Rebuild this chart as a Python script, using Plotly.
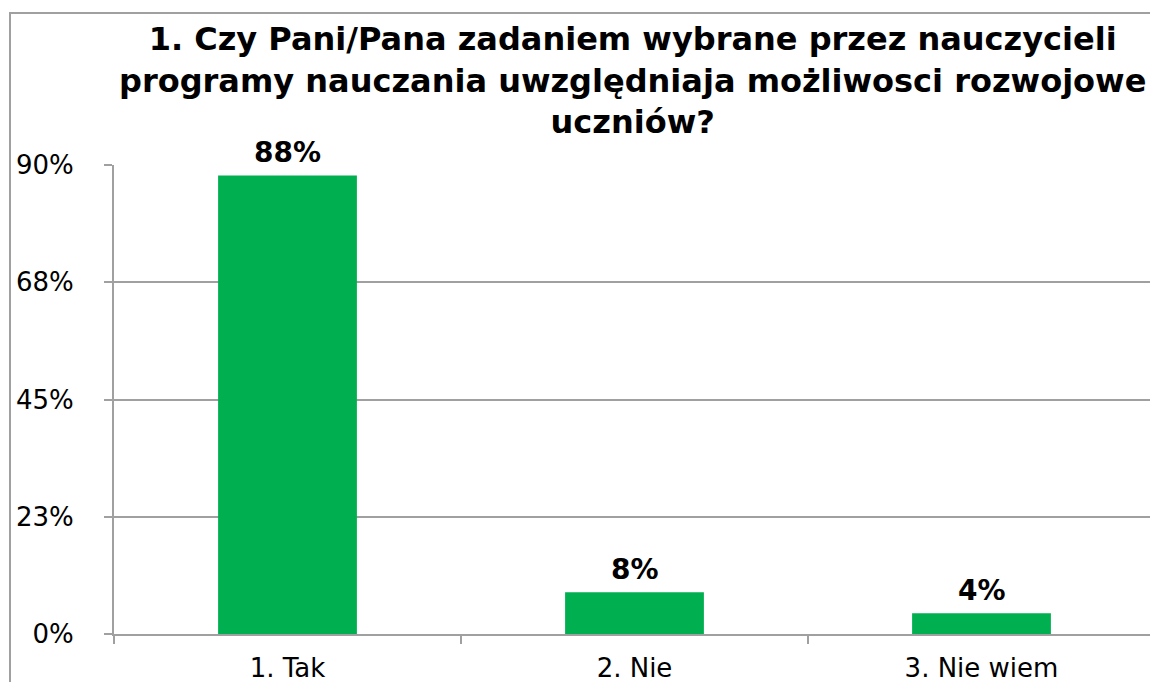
import plotly.graph_objects as go

categories = ["1. Tak", "2. Nie", "3. Nie wiem"]
values = [88, 8, 4]
value_labels = ["88%", "8%", "4%"]
tick_vals = [0, 22.5, 45, 67.5, 90]
tick_text = ["0%", "23%", "45%", "68%", "90%"]
title_text = ("1. Czy Pani/Pana zadaniem wybrane przez nauczycieli<br>"
              "programy nauczania uwzględniaja możliwosci rozwojowe<br>"
              "uczniów?")

FONT = "DejaVu Sans"
GREY = "#A0A0A0"

fig = go.Figure(go.Bar(
    x=categories, y=values,
    marker=dict(color="#00B050", line=dict(width=0)),
    width=0.4,
))

# data labels above bars
for c, v, t in zip(categories, values, value_labels):
    fig.add_annotation(x=c, y=v, text=t, showarrow=False, yanchor="bottom",
                       yshift=4,
                       font=dict(family=FONT, size=28, color="black", weight="bold"))

# title
fig.add_annotation(text=title_text, xref="paper", yref="paper", x=0.5, y=1 + (165 - 18) / 469,
                   xanchor="center", yanchor="top", showarrow=False,
                   font=dict(family=FONT, size=32, color="black", weight="bold"))

fig.update_layout(
    width=1150, height=682,
    margin=dict(l=114, r=0, t=165, b=48, pad=0, autoexpand=False),
    paper_bgcolor="white", plot_bgcolor="white",
    showlegend=False,
    font=dict(family=FONT, color="black"),
)

fig.update_xaxes(
    range=[-0.5, -0.5 + 1036/347], showline=True, linecolor=GREY, linewidth=2,
    ticks="outside", tickson="boundaries", ticklen=8, tickcolor=GREY, tickwidth=2,
    tickfont=dict(family=FONT, size=26, color="black"), showgrid=False,
    ticklabelstandoff=10, automargin=False,
)
fig.update_yaxes(
    range=[0, 90], tickvals=tick_vals, ticktext=tick_text,
    showline=True, linecolor=GREY, linewidth=2,
    ticks="outside", ticklen=8, tickcolor=GREY, tickwidth=2,
    gridcolor=GREY, gridwidth=2, zeroline=False,
    tickfont=dict(family=FONT, size=26, color="black"),
    ticklabelstandoff=25, automargin=False,
)

fig.add_shape(type="rect", xref="paper", yref="paper",
              x0=-104/1036, x1=1.05, y0=-0.3, y1=(634-13)/469,
              line=dict(color=GREY, width=2), fillcolor="rgba(0,0,0,0)", layer="below")

fig.write_html("out.html",
               config={"displayModeBar": False},
               post_script="document.body.style.margin='0';document.body.style.overflow='hidden';")
